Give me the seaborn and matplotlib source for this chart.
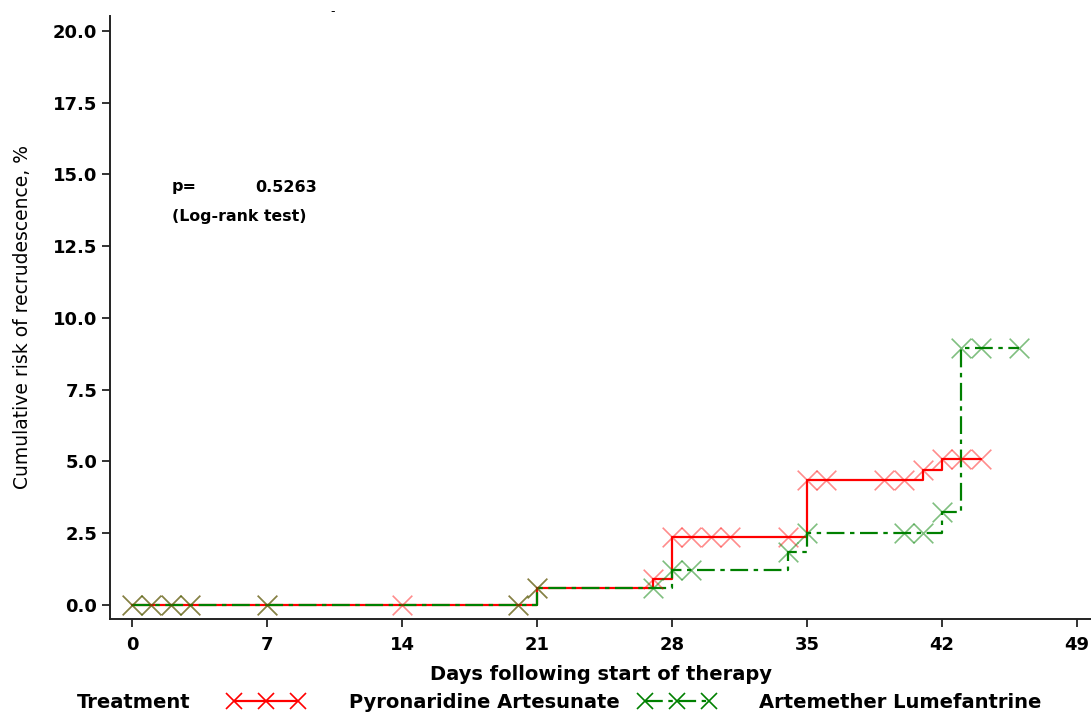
import seaborn as sns
import matplotlib.pyplot as plt
from matplotlib.lines import Line2D

# step curves (day of step, cumulative risk %)
pa_days = [0, 21, 27, 28, 35, 41, 42, 44]
pa_risk = [0, 0.6, 0.9, 2.36, 4.36, 4.7, 5.1, 5.1]
al_days = [0, 21, 28, 34, 35, 42, 43, 46]
al_risk = [0, 0.6, 1.2, 1.86, 2.52, 3.25, 8.95, 8.95]

# censoring marks
pa_cens_days = [0, 1, 2, 3, 7, 14, 20, 21, 27, 28, 29, 30, 31, 34, 35, 36, 39, 40, 41, 42, 43, 44]
pa_cens_risk = [0, 0, 0, 0, 0, 0, 0, 0.6, 0.9, 2.36, 2.36, 2.36, 2.36, 2.36,
                4.36, 4.36, 4.36, 4.36, 4.7, 5.1, 5.1, 5.1]
al_cens_days = [0, 1, 2, 3, 7, 20, 21, 27, 28, 29, 34, 35, 40, 41, 42, 43, 44, 46]
al_cens_risk = [0, 0, 0, 0, 0, 0, 0.6, 0.6, 1.2, 1.2, 1.86, 2.52, 2.52, 2.52,
                3.25, 8.95, 8.95, 8.95]

x_ticks = [0, 7, 14, 21, 28, 35, 42, 49]
y_ticks = [0.0, 2.5, 5.0, 7.5, 10.0, 12.5, 15.0, 17.5, 20.0]

sns.set_style('ticks')
plt.rcParams['font.family'] = ['DejaVu Sans']
plt.rcParams['text.color'] = 'black'
plt.rcParams['axes.labelcolor'] = 'black'
plt.rcParams['xtick.color'] = 'black'
plt.rcParams['ytick.color'] = 'black'

RED = '#ff0000'
GREEN = '#008000'
dashdot = (0, (8, 2.5, 2, 2.5))

fig = plt.figure(figsize=(10.91, 7.13), dpi=100)
ax = fig.add_axes([110 / 1091, 1 - 619 / 713, 1 - 110 / 1091, (619 - 16) / 713])

sns.lineplot(x=pa_days, y=pa_risk, ax=ax, color=RED, lw=1.6,
             drawstyle='steps-post', estimator=None, zorder=2)
sns.lineplot(x=al_days, y=al_risk, ax=ax, color=GREEN, lw=1.6, linestyle=dashdot,
             drawstyle='steps-post', estimator=None, zorder=3)
sns.scatterplot(x=pa_cens_days, y=pa_cens_risk, ax=ax, marker='x', s=200,
                color=RED, alpha=0.45, linewidths=1.2, zorder=4)
sns.scatterplot(x=al_cens_days, y=al_cens_risk, ax=ax, marker='x', s=200,
                color=GREEN, alpha=0.5, linewidths=1.2, zorder=5)

ax.set_xlim(-1.14, 49.72)
ax.set_ylim(-0.49, 20.52)
ax.set_xticks(x_ticks)
ax.set_yticks(y_ticks)
ax.set_yticklabels([f'{v:.1f}' for v in y_ticks])
ax.tick_params(axis='both', labelsize=13, width=1.4, length=6, color='#333333')
ax.tick_params(axis='y', pad=3)
ax.tick_params(axis='x', pad=6)
for lab in ax.get_xticklabels() + ax.get_yticklabels():
    lab.set_fontweight('bold')
for s in ['top', 'right']:
    ax.spines[s].set_visible(False)
for s in ['left', 'bottom']:
    ax.spines[s].set_linewidth(1.4)
    ax.spines[s].set_color('#222222')

ax.set_xlabel('Days following start of therapy', fontsize=14, fontweight='bold', labelpad=8)
ax.set_ylabel('Cumulative risk of recrudescence, %', fontsize=13.5, labelpad=15)

fig.text(172 / 1091, 1 - 187 / 713, 'p=', fontsize=11.5, fontweight='bold', va='center')
fig.text(255 / 1091, 1 - 187 / 713, '0.5263', fontsize=11.5, fontweight='bold', va='center')
fig.text(172 / 1091, 1 - 216 / 713, '(Log-rank test)', fontsize=11.3, fontweight='bold', va='center')
fig.text(330 / 1091, 1 - 12 / 713, '-', fontsize=9, va='center')

# legend
fig.text(77 / 1091, 1 - 702 / 713, 'Treatment', fontsize=14, fontweight='bold', va='center')
handles = [
    Line2D([], [], color=RED, lw=1.6, marker='x', markersize=11, markeredgewidth=1.2),
    Line2D([], [], color=GREEN, lw=1.6, linestyle=dashdot, marker='x', markersize=11,
           markeredgewidth=1.2),
]
leg = fig.legend(handles, ['Pyronaridine Artesunate', 'Artemether Lumefantrine'],
                 loc='center left', bbox_to_anchor=(228 / 1091, 1 - 702 / 713), ncol=2,
                 frameon=False, numpoints=3, handlelength=3.9, handletextpad=2.3,
                 columnspacing=1.0, borderpad=0, borderaxespad=0,
                 prop={'size': 14, 'weight': 'bold'})

fig.savefig('out.png', dpi=100)
